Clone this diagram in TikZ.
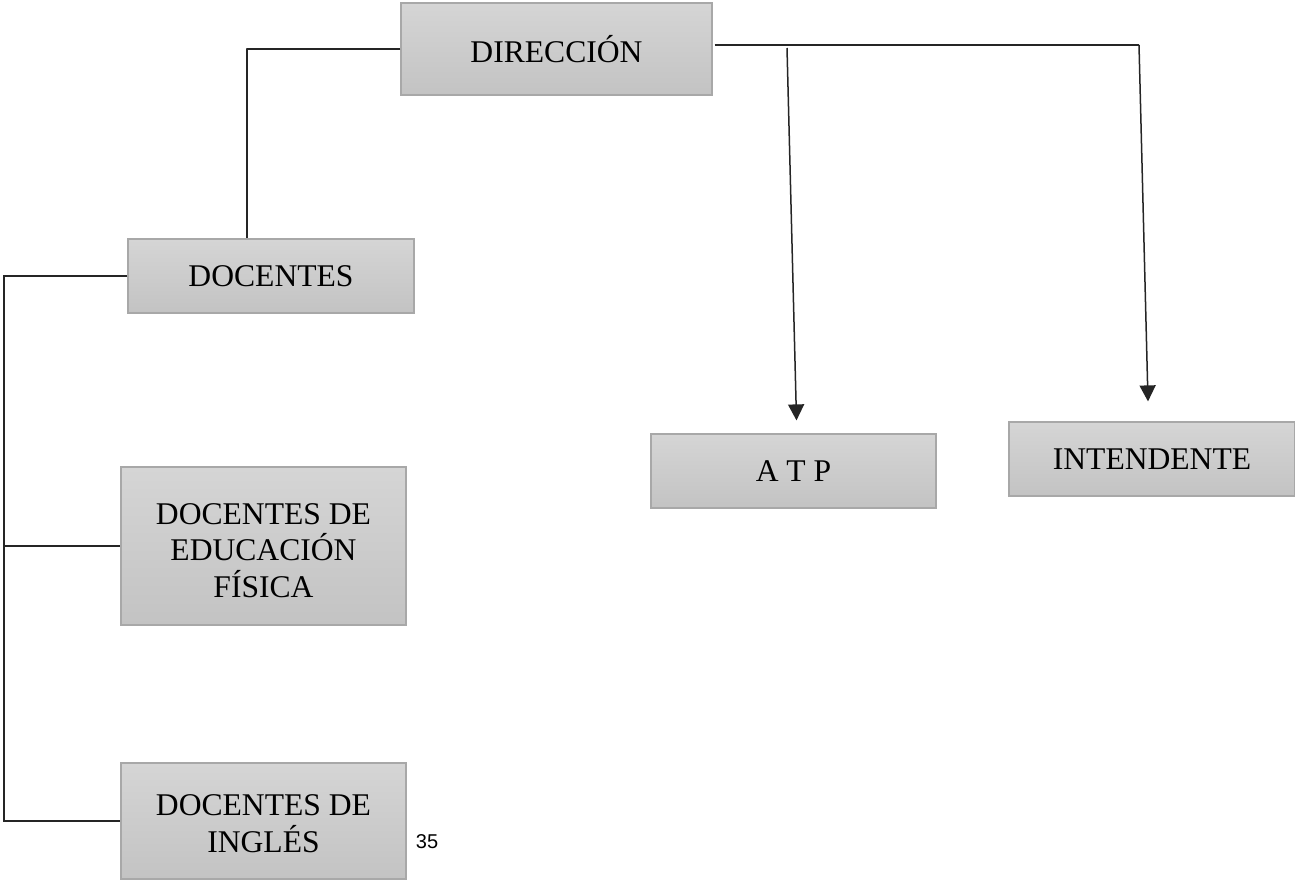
\documentclass[tikz,border=0pt]{standalone}
\usepackage{fontspec}
\setmainfont{Liberation Serif}
\newfontfamily\numfont{Liberation Sans}
\usetikzlibrary{arrows.meta}
\definecolor{boxtop}{HTML}{D5D5D5}
\definecolor{boxbot}{HTML}{C3C3C3}
\definecolor{boxline}{HTML}{A8A8A8}
\definecolor{conn}{HTML}{252525}
\tikzset{
  orgbox/.style={rectangle, draw=boxline, line width=1.2pt, top color=boxtop, bottom color=boxbot,
    align=center, inner sep=0pt, font=\fontsize{31.6}{36.5}\selectfont},
  link/.style={draw=conn, line width=1.5pt},
  arr/.style={link, -{Triangle[width=16pt,length=16pt]}}
}
\begin{document}
\begin{tikzpicture}[x=1pt,y=-1pt]
\useasboundingbox (0,0) rectangle (1295,881);
\node[orgbox, minimum width=311pt, minimum height=92pt] (dir) at (556.5,49) {DIRECCIÓN};
\node[orgbox, minimum width=286pt, minimum height=74pt] (doc) at (271,276) {DOCENTES};
\node[orgbox, minimum width=285pt, minimum height=158pt] (def) at (263.5,546) {\rule{0pt}{30pt}DOCENTES DE\\EDUCACIÓN\\FÍSICA};
\node[orgbox, minimum width=285pt, minimum height=116pt] (din) at (263.5,821) {\rule{0pt}{26pt}DOCENTES DE\\INGLÉS};
\node[orgbox, minimum width=285pt, minimum height=74pt] (atp) at (793.5,471) {A T P};
\node[orgbox, minimum width=286pt, minimum height=74pt] (int) at (1152,459) {INTENDENTE};
\node[font=\numfont\fontsize{20}{24}\selectfont, inner sep=0pt] (pg) at (427,842) {35};
% connectors
\draw[link] (dir.west) -- ++(-154pt,0pt) -| ([xshift=-24pt]doc.north);
\coordinate (bus) at (4,276);
\draw[link] (doc.west) -- (bus) |- (din.west);
\draw[link] (bus |- def.west) -- (def.west);
\coordinate (rt) at (1139,45);
\draw[link] ([xshift=2pt,yshift=4pt]dir.east) -- (rt);
\draw[arr] (rt) -- ([xshift=-4pt,yshift=20pt]int.north);
\coordinate (as) at (787,48);
\draw[arr] (as) -- ([xshift=3pt,yshift=13pt]atp.north);
\end{tikzpicture}
\end{document}
